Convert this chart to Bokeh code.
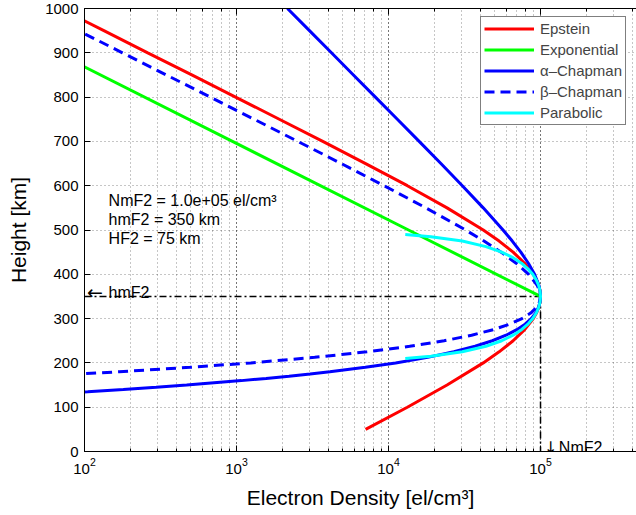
from bokeh.plotting import figure
from bokeh.models import (LogAxis, Range1d, Legend, LegendItem, FixedTicker, LogTicker)
from bokeh.embed import file_html
from bokeh.resources import INLINE
from bokeh.core.properties import value

FONT = "Liberation Sans"
ARROW_FONT = "DejaVu Sans"

# --- parameters shown on the chart ---
NmF2 = 1.0e5
hmF2 = 350

# --- curves (height km, electron density el/cm^3) ---
epstein_h = [50, 100, 150, 200, 225, 250, 275, 300, 312.5, 325, 337.5, 350, 362.5,
             375, 387.5, 400, 425, 450, 475, 500, 550, 600, 650, 700, 750, 800,
             850, 900, 950, 1000]
epstein_n = [7067, 13300, 24270, 42000, 53410, 66040, 78650, 89700, 94000, 97280,
             99310, 100000, 99310, 97280, 94000, 89700, 78650, 66040, 53410, 42000,
             24270, 13300, 7067, 3694, 1912, 986, 508, 260.6, 134.1, 68.9]

expo_h = [350, 500, 700, 900, 1000]
expo_n = [100000, 13530, 940.4, 65.4, 17.3]

alpha_h = [120, 135, 140, 145, 150, 160, 165, 170, 175, 180, 190, 200, 212.5, 225,
           237.5, 250, 262.5, 275, 287.5, 300, 312.5, 325, 337.5, 350, 362.5, 375,
           400, 425, 450, 475, 500, 550, 600, 650, 700, 750, 800, 850, 900, 950, 1000]
alpha_n = [16.6, 105, 180, 296, 470, 1077, 1566, 2215, 3050, 4110, 7040, 11140,
           18090, 26900, 37120, 48200, 59330, 69840, 79140, 86890, 92830, 96900,
           99270, 100000, 99340, 97540, 91390, 83200, 74190, 65180, 56680, 41980,
           30590, 22110, 15910, 11430, 8197, 5876, 4213, 3020, 2163]

beta_h = [160, 165, 170, 175, 180, 190, 200, 212.5, 225, 237.5, 250, 262.5, 275,
          287.5, 300, 312.5, 325, 337.5, 350, 362.5, 375, 400, 425, 450, 475, 500,
          550, 600, 650, 700, 750, 800, 850, 900, 950, 1000]
beta_n = [11.6, 24.5, 49, 93, 169, 494, 1242, 3270, 7230, 13780, 23220, 35200,
          48770, 62630, 75500, 86180, 93900, 98540, 100000, 98690, 95140, 83530,
          69210, 55040, 42490, 32130, 17620, 9358, 4888, 2531, 1306, 672, 345.6,
          177.6, 91.2, 46.8]

para_h = [210, 215, 225, 237.5, 250, 262.5, 275, 287.5, 300, 312.5, 325, 337.5, 350,
          362.5, 375, 387.5, 400, 412.5, 425, 437.5, 450, 462.5, 475, 485, 490]
para_n = [12890, 19000, 30560, 43750, 55560, 65970, 75000, 82640, 88890, 93750,
          97220, 99310, 100000, 99310, 97220, 93750, 88890, 82640, 75000, 65970,
          55560, 43750, 30560, 19000, 12890]

y_ticks = [0, 100, 200, 300, 400, 500, 600, 700, 800, 900, 1000]

p = figure(width=636, height=515, x_axis_type="log",
           x_range=Range1d(100, 4.28e5), y_range=Range1d(0, 1000),
           output_backend="svg", toolbar_location=None,
           min_border_left=84, min_border_right=0, min_border_top=8,
           min_border_bottom=64, background_fill_color="white",
           border_fill_color="white", outline_line_color=None)

# axes styling
for ax in (p.xaxis[0], p.yaxis[0]):
    ax.major_tick_in = 6
    ax.major_tick_out = 0
    ax.minor_tick_in = 3
    ax.minor_tick_out = 0
    ax.axis_line_color = "black"
    ax.axis_line_width = 1
    ax.major_tick_line_color = "black"
    ax.minor_tick_line_color = "black"
    ax.major_label_text_font = FONT
    ax.major_label_text_font_size = "15px"
    ax.major_label_text_color = "black"
    ax.axis_label_text_font = FONT
    ax.axis_label_text_font_size = "21px"
    ax.axis_label_text_font_style = "normal"
    ax.axis_label_text_color = "black"

p.yaxis[0].ticker = FixedTicker(ticks=y_ticks, minor_ticks=[])
p.yaxis[0].axis_label = "Height [km]"
p.yaxis[0].axis_label_standoff = 12
p.yaxis[0].major_label_standoff = 6
p.xaxis[0].axis_label = "Electron Density [el/cm³]"
p.xaxis[0].axis_label_standoff = 9
p.xaxis[0].major_label_standoff = 6

top = LogAxis(ticker=LogTicker(), major_tick_in=6, major_tick_out=0,
              minor_tick_in=3, minor_tick_out=0, major_label_text_font_size="1px",
              major_label_text_alpha=0.0, major_label_standoff=0,
              axis_line_color="black")
p.add_layout(top, "above")

# grid
for attr in ("grid_line", "minor_grid_line"):
    setattr(p.xgrid, attr + "_color", "black")
    setattr(p.xgrid, attr + "_dash", "1 3")
    setattr(p.xgrid, attr + "_alpha", 0.45)
p.ygrid.grid_line_color = "black"
p.ygrid.grid_line_dash = "1 3"
p.ygrid.grid_line_alpha = 0.45

# reference lines at the peak
p.line([100, NmF2], [hmF2, hmF2], line_color="black", line_width=1.5,
       line_dash="7 3 2 3")
p.line([NmF2, NmF2], [hmF2, 0], line_color="black", line_width=1.5,
       line_dash="7 3 2 3")

r_ep = p.line(epstein_n, epstein_h, line_color="#ff0000", line_width=3)
r_ex = p.line(expo_n, expo_h, line_color="#00ff00", line_width=3)
r_al = p.line(alpha_n, alpha_h, line_color="#0000ff", line_width=3)
r_be = p.line(beta_n, beta_h, line_color="#0000ff", line_width=3, line_dash="10 6")
r_pa = p.line(para_n, para_h, line_color="#00ffff", line_width=3)

# annotations
p.text(x=[104], y=[359], text=["←"], text_font=value(ARROW_FONT),
       text_font_size="19px", text_baseline="alphabetic", text_align="left",
       text_color="black")
p.text(x=[144], y=[359], text=["hmF2"], text_font=value(FONT),
       text_font_size="16px", text_baseline="alphabetic", text_align="left",
       text_color="black")
p.text(x=[1.055e5], y=[9], text=["↓"], text_font=value(ARROW_FONT),
       text_font_size="16px", text_baseline="alphabetic", text_align="left",
       text_color="black")
p.text(x=[1.32e5], y=[9], text=["NmF2"], text_font=value(FONT),
       text_font_size="16px", text_baseline="alphabetic", text_align="left",
       text_color="black")
info = ["NmF2 = 1.0e+05 el/cm³", "hmF2 = 350 km", "HF2 = 75 km"]
p.text(x=[144, 144, 144], y=[567, 524, 481], text=info, text_font=value(FONT),
       text_font_size="16px", text_baseline="alphabetic", text_align="left",
       text_color="black")

legend = Legend(items=[
    LegendItem(label="Epstein", renderers=[r_ep]),
    LegendItem(label="Exponential", renderers=[r_ex]),
    LegendItem(label="α–Chapman", renderers=[r_al]),
    LegendItem(label="β–Chapman", renderers=[r_be]),
    LegendItem(label="Parabolic", renderers=[r_pa]),
], location=(396, 326))
legend.label_text_font = FONT
legend.label_text_font_size = "15px"
legend.glyph_width = 50
legend.glyph_height = 17
legend.spacing = 4
legend.padding = 3
legend.margin = 0
legend.label_standoff = 6
legend.label_height = 17
legend.border_line_color = "black"
legend.border_line_width = 1
legend.background_fill_color = "white"
legend.background_fill_alpha = 1
p.add_layout(legend, "center")

open("out.html", "w").write(file_html(p, INLINE))
